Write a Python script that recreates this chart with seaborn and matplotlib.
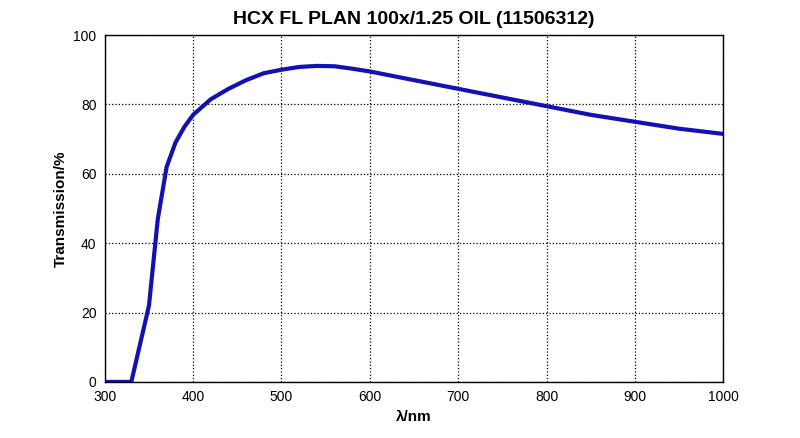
import matplotlib
matplotlib.use("Agg")
import matplotlib.pyplot as plt
import seaborn as sns
import pandas as pd

# transmission curve
wavelength = [300, 330, 340, 350, 360, 370, 380, 390, 400, 420, 440, 460, 480, 500, 520,
              540, 560, 580, 600, 650, 700, 750, 800, 850, 900, 950, 1000]
transmission = [0, 0, 11, 22, 47, 62, 69, 73.5, 77, 81.5, 84.5, 87, 89, 90, 90.8,
                91.1, 91, 90.3, 89.5, 87, 84.5, 82, 79.5, 77, 75, 73, 71.5]

df = pd.DataFrame({'nm': wavelength, 'T': transmission})

sns.set_style('white')
plt.rcParams['font.family'] = ['Liberation Sans', 'DejaVu Sans']
plt.rcParams['text.color'] = 'black'
plt.rcParams['axes.labelcolor'] = 'black'

fig = plt.figure(figsize=(8, 4.38), dpi=100)
ax = fig.add_axes([0.131, 0.128, 0.773, 0.792])

sns.lineplot(data=df, x='nm', y='T', ax=ax, color='#1212b4', linewidth=3)

ax.set_xlim(300, 1000)
ax.set_ylim(0, 100)
ax.set_xticks(range(300, 1001, 100))
ax.set_yticks(range(0, 101, 20))
ax.grid(True, color='black', linestyle=':', linewidth=0.9)
for s in ax.spines.values():
    s.set_color('black')
    s.set_linewidth(1)
ax.tick_params(direction='in', length=4, labelsize=10, colors='black', pad=6)
ax.set_xlabel('λ/nm', fontsize=11, fontweight='bold')
ax.set_ylabel('Transmission/%', fontsize=11, fontweight='bold')
ax.set_title('HCX FL PLAN 100x/1.25 OIL (11506312)', fontsize=14, fontweight='bold',
             pad=8, color='black')

fig.savefig('out.png')
